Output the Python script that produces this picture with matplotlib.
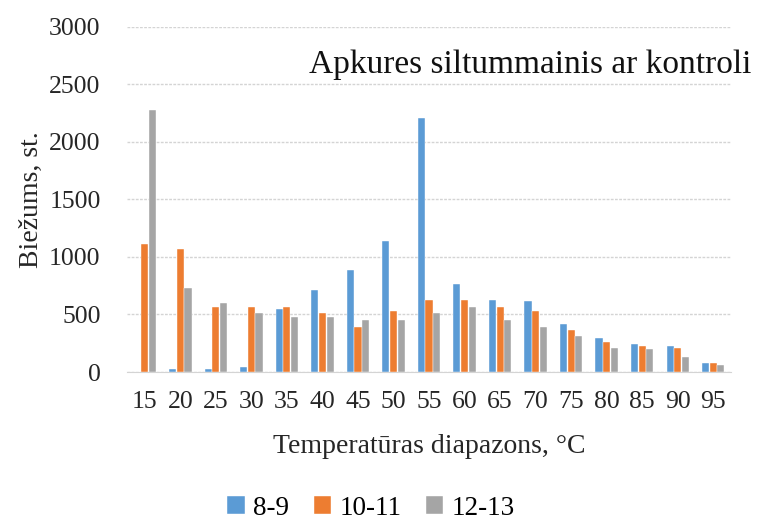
import matplotlib
matplotlib.use("Agg")
import matplotlib.pyplot as plt
import numpy as np

# temperature bins, °C
categories = ["15", "20", "25", "30", "35", "40", "45", "50", "55",
              "60", "65", "70", "75", "80", "85", "90", "95"]
series_names = ["8-9", "10-11", "12-13"]
values_8_9 = [0, 25, 25, 45, 545, 715, 885, 1135, 2210,
              765, 630, 615, 415, 295, 245, 228, 78]
values_10_11 = [1115, 1065, 565, 565, 565, 512, 395, 530, 630,
                630, 565, 530, 365, 262, 228, 212, 78]
values_12_13 = [2275, 730, 600, 512, 480, 480, 448, 448, 512,
                565, 448, 395, 312, 212, 198, 130, 62]
yticks = [0, 500, 1000, 1500, 2000, 2500, 3000]

COLORS = ("#5B9BD5", "#ED7D31", "#A5A5A5")
FONT = ["Liberation Serif", "DejaVu Serif"]

plt.rcParams["font.family"] = FONT

fig = plt.figure(figsize=(7.57, 5.24), dpi=100)
ax = fig.add_axes([0.1678, 0.290, 0.7979, 0.659])

x = np.arange(len(categories))
width = 0.2
for i, (vals, name, color) in enumerate(zip((values_8_9, values_10_11, values_12_13),
                                            series_names, COLORS)):
    ax.bar(x + (i - 1) * 0.215, vals, width=width, color=color,
           edgecolor="white", linewidth=0.3, label=name, zorder=3)

ax.set_xlim(-0.5, len(categories) - 0.5)
ax.set_ylim(0, 3000)
ax.set_yticks(yticks)
ax.set_xticks(x)
ax.set_xticklabels(categories)
ax.tick_params(axis="both", length=0, labelsize=18.5, colors="#262626")
ax.tick_params(axis="y", pad=19)
ax.tick_params(axis="x", pad=14)
ax.grid(axis="y", color="#d4d4d4", linewidth=1, linestyle=(0, (2, 1)), zorder=0)

for side in ("top", "right", "left"):
    ax.spines[side].set_visible(False)
ax.spines["bottom"].set_color("#d4d4d4")

ax.set_ylabel("Biežums, st.", fontsize=20, color="#262626", labelpad=4)
ax.set_xlabel("Temperatūras diapazons, °C", fontsize=20, color="#262626", labelpad=15)

fig.text(0.993, 0.876, "Apkures siltummainis ar kontroli", ha="right", va="center",
         fontsize=24, color="#111111")

fig.legend(loc="center", bbox_to_anchor=(0.49, 0.03), ncol=3, frameon=False,
           fontsize=19.5, handlelength=0.65, handleheight=0.65, handletextpad=0.3,
           columnspacing=0.9, borderaxespad=0)

fig.savefig("out.png", dpi=100)
